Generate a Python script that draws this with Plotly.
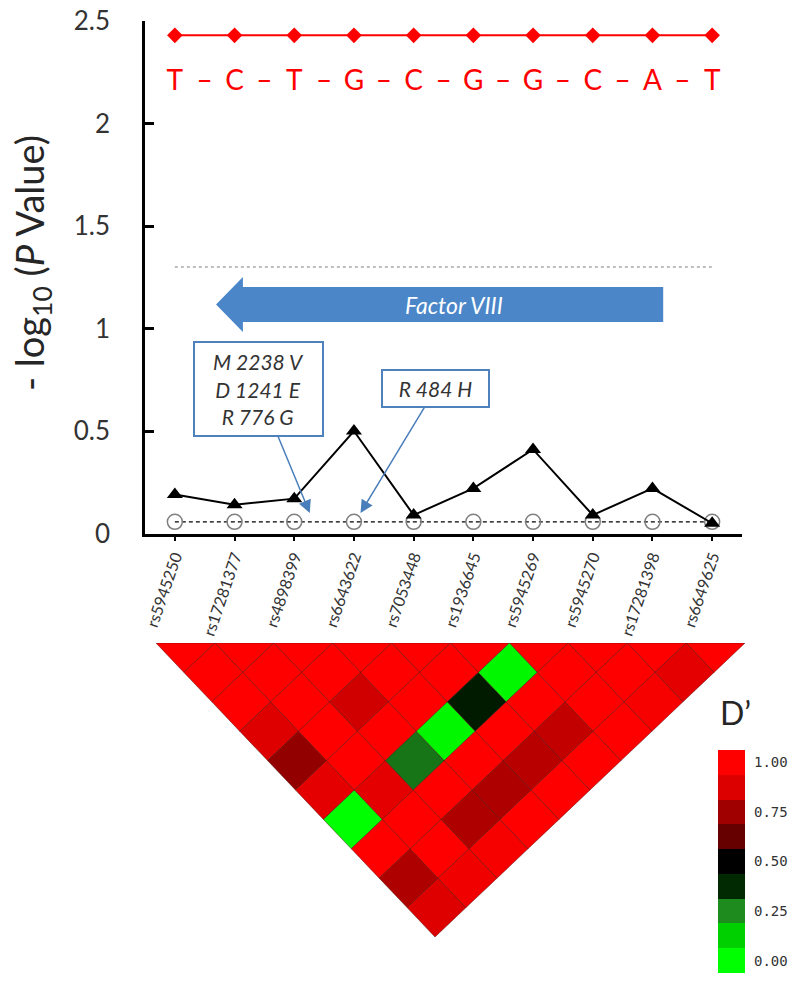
import plotly.graph_objects as go
from plotly.colors import sample_colorscale

# ── data ────────────────────────────────────────────────────────────────────
snps = ["rs5945250", "rs17281377", "rs4898399", "rs6643622", "rs7053448",
        "rs1936645", "rs5945269", "rs5945270", "rs17281398", "rs6649625"]
snp_logp = [0.19, 0.14, 0.17, 0.50, 0.09, 0.22, 0.41, 0.09, 0.22, 0.05]
baseline_logp = [0.057, 0.057, 0.057, 0.057, 0.057, 0.057, 0.057, 0.057, 0.057, 0.057]
haplo_logp = [2.43, 2.43, 2.43, 2.43, 2.43, 2.43, 2.43, 2.43, 2.43, 2.43]
haplo_alleles = ["T", "C", "T", "G", "C", "G", "G", "C", "A", "T"]
SIG_LOGP = 1.3

# D' for pair (i, j), j > i ; row i lists j = i+1 .. 9
ld_dprime = [
    [1.00, 1.00, 0.88, 0.72, 0.90, 0.00, 1.00, 0.78, 0.88],
    [1.00, 1.00, 1.00, 1.00, 0.90, 1.00, 1.00, 0.95],
    [1.00, 0.85, 1.00, 0.28, 1.00, 0.78, 0.97],
    [1.00, 1.00, 0.02, 1.00, 0.78, 1.00],
    [1.00, 0.42, 1.00, 0.80, 1.00],
    [0.02, 1.00, 0.82, 1.00],
    [1.00, 1.00, 1.00],
    [1.00, 0.97],
    [0.90],
]

legend_steps = [0.0, 0.125, 0.25, 0.375, 0.5, 0.625, 0.75, 0.875, 1.0]
legend_tickvals = [0, 2, 4, 6, 8]
legend_ticktext = ["0.00", "0.25", "0.50", "0.75", "1.00"]

# gene (Factor VIII, reverse strand) drawn in SNP-index units
gene_name = "Factor VIII"
gene_start, gene_end = 8.18, 0.69
gene_logp = 1.117

# ── style ───────────────────────────────────────────────────────────────────
W, H = 800, 991
OFF = 8             # page body margin added by the browser
FONT = "Lato"
TXT = "#262626"
RED = "#ff0000"
BLUE_BOX = "#4f81bd"
BLUE_ARROW = "#4a7ebb"
BLUE_GENE = "#4a86c8"
DPRIME_SCALE = [
    [0.0, "#00ff00"], [0.125, "#00d000"], [0.25, "#1e8b1e"], [0.375, "#022a02"],
    [0.5, "#000000"], [0.625, "#660000"], [0.75, "#a00000"], [0.875, "#dd0000"],
    [1.0, "#ff0000"],
]
SKEW = 0.0526       # the LD triangle in the source is slightly sheared


def dom_x(a, b):
    return [(a - OFF) / W, (b - OFF) / W]


def dom_y(top, bottom):
    return [1 - (bottom - OFF) / H, 1 - (top - OFF) / H]


def px(xp, yp):
    return (xp - OFF) / W, 1 - (yp - OFF) / H


idx = list(range(len(snps)))
fig = go.Figure()

# ── top panel: association ─────────────────────────────────────────────────
fig.add_trace(go.Scatter(
    x=idx, y=[SIG_LOGP] * len(idx), mode="lines",
    line=dict(color="#7f7f7f", width=1.2, dash="dot"), hoverinfo="skip",
))
fig.add_trace(go.Scatter(
    x=idx, y=haplo_logp, mode="lines+markers",
    line=dict(color=RED, width=2),
    marker=dict(symbol="diamond", size=12, color=RED),
))
fig.add_trace(go.Scatter(
    x=idx, y=[v - 0.23 for v in haplo_logp], mode="text",
    text=haplo_alleles, textfont=dict(family=FONT, size=28, color=RED),
    hoverinfo="skip",
))
fig.add_trace(go.Scatter(
    x=[i + 0.5 for i in idx[:-1]], y=[v - 0.23 for v in haplo_logp[:-1]], mode="text",
    text=["–"] * (len(idx) - 1), textfont=dict(family=FONT, size=28, color=RED),
    hoverinfo="skip",
))
fig.add_trace(go.Scatter(
    x=idx, y=baseline_logp, mode="lines+markers",
    line=dict(color="black", width=1.3, dash="4px,3px"),
    marker=dict(symbol="circle-open", size=15, color="#808080", line=dict(width=1.5)),
))
fig.add_trace(go.Scatter(
    x=idx, y=snp_logp, mode="lines+markers",
    line=dict(color="black", width=2),
    marker=dict(symbol="triangle-up", size=14, color="black"),
))

# gene arrow
half_body, half_head, head_len = 0.0854, 0.134, 0.45
gx0, gx1 = gene_end, gene_start
path = (f"M {gx0},{gene_logp} L {gx0 + head_len},{gene_logp + half_head} "
        f"L {gx0 + head_len},{gene_logp + half_body} L {gx1},{gene_logp + half_body} "
        f"L {gx1},{gene_logp - half_body} L {gx0 + head_len},{gene_logp - half_body} "
        f"L {gx0 + head_len},{gene_logp - half_head} Z")
fig.add_shape(type="path", path=path, xref="x", yref="y",
              fillcolor=BLUE_GENE, line=dict(width=0))

ytitle_x, ytitle_y = px(32, 263)
dlabel_x, dlabel_y = px(735, 712)
annotations = [
    dict(x=4.68, y=gene_logp, xref="x", yref="y", text=f"<i>{gene_name}</i>",
         showarrow=False, font=dict(family=FONT, size=23, color="white")),
    # mutation call-outs: box at (ax, ay), arrow pointing to (x, y)
    dict(x=2.26, y=0.10, ax=1.40, ay=0.705, xref="x", yref="y", axref="x", ayref="y",
         text="<i>M 2238 V<br>D 1241 E<br>R 776 G</i>",
         font=dict(family=FONT, size=21, color="#333333"),
         width=111, height=76, borderpad=8, borderwidth=2,
         bordercolor=BLUE_BOX, bgcolor="white",
         showarrow=True, arrowhead=2, arrowsize=1.7, arrowwidth=1.5,
         arrowcolor=BLUE_ARROW, standoff=0),
    dict(x=3.11, y=0.10, ax=4.37, ay=0.707, xref="x", yref="y", axref="x", ayref="y",
         text="<i>R 484 H</i>",
         font=dict(family=FONT, size=21, color="#333333"),
         width=97, height=27, borderpad=4, borderwidth=2,
         bordercolor=BLUE_BOX, bgcolor="white",
         showarrow=True, arrowhead=2, arrowsize=1.7, arrowwidth=1.5,
         arrowcolor=BLUE_ARROW, standoff=0),
    dict(x=ytitle_x, y=ytitle_y, xref="paper", yref="paper", textangle=-90,
         xanchor="center", yanchor="middle",
         text="- log<sub>10</sub> (<i>P</i> Value)", showarrow=False,
         font=dict(family=FONT, size=38, color=TXT)),
    dict(x=dlabel_x, y=dlabel_y, xref="paper", yref="paper", text="D’",
         xanchor="center", yanchor="middle",
         showarrow=False, font=dict(family=FONT, size=32, color=TXT)),
]

# ── LD triangle ─────────────────────────────────────────────────────────────
def shear(xs, ys):
    return [x + SKEW * y for x, y in zip(xs, ys)], ys


n = len(snps)
for i in range(n):
    xs, ys = shear([i - 0.5, i + 0.5, i, i - 0.5], [0, 0, -0.5, 0])
    fig.add_trace(go.Scatter(
        x=xs, y=ys, xaxis="x2", yaxis="y2", mode="lines", fill="toself",
        fillcolor=RED, line=dict(color="rgba(70,0,0,0.55)", width=0.8),
        hoverinfo="skip",
    ))
for i, row in enumerate(ld_dprime):
    for k, d in enumerate(row):
        j = i + 1 + k
        cx, cy = (i + j) / 2, -(j - i) / 2
        xs, ys = shear([cx, cx + 0.5, cx, cx - 0.5, cx],
                       [cy + 0.5, cy, cy - 0.5, cy, cy + 0.5])
        col = sample_colorscale(DPRIME_SCALE, [d])[0]
        fig.add_trace(go.Scatter(
            x=xs, y=ys, xaxis="x2", yaxis="y2", mode="lines", fill="toself",
            fillcolor=col, line=dict(color="rgba(70,0,0,0.55)", width=0.8),
            name=f"{snps[i]} / {snps[j]}", text=f"D' = {d:.2f}", hoverinfo="name+text",
        ))

# ── D' legend ───────────────────────────────────────────────────────────────
fig.add_trace(go.Heatmap(
    z=[[v] for v in legend_steps], x=[0], y=list(range(len(legend_steps))),
    xaxis="x3", yaxis="y3", colorscale=DPRIME_SCALE, zmin=0, zmax=1,
    showscale=False, hoverinfo="skip",
))

fig.update_layout(
    width=W, height=H,
    margin=dict(l=0, r=0, t=0, b=0, autoexpand=False),
    paper_bgcolor="white", plot_bgcolor="white",
    showlegend=False,
    font=dict(family=FONT, color=TXT),
    xaxis=dict(
        domain=dom_x(145, 742), range=[-0.5, 9.5], anchor="y", automargin=False,
        tickvals=idx, ticktext=snps, tickangle=-71,
        tickfont=dict(family=FONT, size=16, color="#333333"),
        ticks="outside", ticklen=5, tickwidth=2, tickcolor="black",
        showline=True, linecolor="black", linewidth=2.5,
        showgrid=False, zeroline=False,
    ),
    yaxis=dict(
        domain=dom_y(21, 533.5), range=[0, 2.5], anchor="x", dtick=0.5, automargin=False,
        tickfont=dict(family=FONT, size=26, color="#333333"),
        ticks="inside", ticklen=9, tickwidth=2.5, tickcolor="black",
        ticklabelstandoff=27, ticklabeloverflow="allow",
        showline=True, linecolor="black", linewidth=2.5,
        showgrid=False, zeroline=False,
    ),
    xaxis2=dict(domain=dom_x(156, 745), range=[-0.5, 9.5], anchor="y2",
                visible=False, automargin=False),
    yaxis2=dict(domain=dom_y(643, 937), range=[-5, 0], anchor="x2",
                visible=False, automargin=False),
    xaxis3=dict(domain=dom_x(718, 745), range=[-0.5, 0.5], anchor="y3",
                visible=False, automargin=False),
    yaxis3=dict(
        domain=dom_y(750, 973), range=[-0.5, 8.5], anchor="x3", side="right",
        automargin=False,
        tickvals=legend_tickvals, ticktext=legend_ticktext,
        tickfont=dict(family="DejaVu Sans Mono", size=14, color="#333333"),
        ticks="", showline=False, showgrid=False, zeroline=False,
        ticklabelstandoff=8,
    ),
    annotations=annotations,
)

fig.write_html("out.html")
